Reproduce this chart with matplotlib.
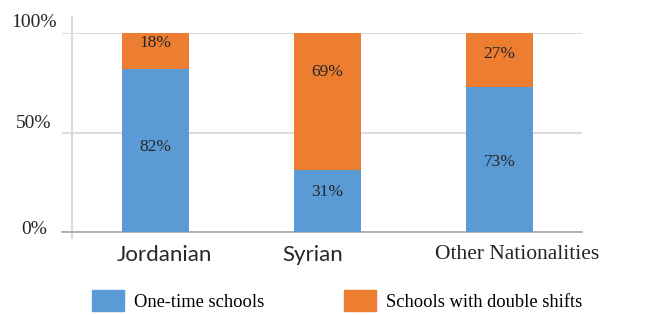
import matplotlib.pyplot as plt
from matplotlib.patches import Patch

categories = ["Jordanian", "Syrian", "Other Nationalities"]
one_time = [82, 31, 73]
double_shift = [18, 69, 27]
series_names = ["One-time schools", "Schools with double shifts"]
yticks = [0, 50, 100]
ytick_labels = ["0%", "50%", "100%"]

BLUE = "#5B9BD5"
ORANGE = "#ED7D31"
SERIF = "Liberation Serif"

fig = plt.figure(figsize=(6.65, 3.15), dpi=100)
ax = fig.add_axes([62 / 665, 1 - 232 / 315, 520 / 665, 199 / 315])

x = list(range(len(categories)))
w = 0.39
ax.bar(x, one_time, w, color=BLUE, zorder=3)
ax.bar(x, double_shift, w, bottom=one_time, color=ORANGE, zorder=3)

# label nudges (in value units) to sit where the original had them
low_nudge = [1.7, 4.6, -1.3]
high_nudge = [4, 15, 3]
for i in x:
    ax.text(i, one_time[i] / 2 + low_nudge[i], f"{one_time[i]}%", ha="center",
            va="center", fontsize=12.5, family=SERIF, color="#262626", zorder=4)
    ax.text(i, one_time[i] + double_shift[i] / 2 + high_nudge[i],
            f"{double_shift[i]}%", ha="center", va="center",
            fontsize=12.5, family=SERIF, color="#262626", zorder=4)

ax.set_xlim(-0.544, 2.48)
ax.set_ylim(0, 100)
for s in ["top", "right", "left"]:
    ax.spines[s].set_visible(False)
ax.spines["bottom"].set_color("#a6a6a6")
ax.spines["bottom"].set_linewidth(1.2)
ax.set_yticks(yticks)
ax.set_yticklabels([])
ax.yaxis.grid(True, color="#d9d9d9", linewidth=1.3, zorder=0)
ax.tick_params(axis="both", length=0)

# vertical axis line, offset from the left edge
ax.plot([-0.486, -0.486], [-3, 108], color="#d9d9d9", linewidth=1.5,
        clip_on=False, zorder=1)

# y tick labels, nudged above their gridlines
offsets = [1.5, 4.5, 5.5]
for v, lab, off in zip(yticks, ytick_labels, offsets):
    ax.text(-0.707, v + off, lab, ha="center", va="center", fontsize=14,
            family=SERIF, color="#262626", clip_on=False)

# category labels, each a little off-centre like the original
ax.set_xticks(x)
ax.set_xticklabels([])
fams = ["Lato", "Lato", SERIF]
sizes = [16, 16, 15.5]
xnudge = [0.052, -0.084, 0.105]
for i, c in enumerate(categories):
    ax.text(i + xnudge[i], -6.5, c, ha="center", va="top", fontsize=sizes[i],
            family=fams[i], color="#262626", clip_on=False)

handles = [Patch(color=BLUE), Patch(color=ORANGE)]
fig.legend(handles, series_names, loc="upper left",
           bbox_to_anchor=(92 / 665, 1 - 290 / 315), ncol=2, frameon=False,
           borderaxespad=0, borderpad=0, handlelength=1.75, handleheight=1.4,
           handletextpad=0.5, columnspacing=4.35,
           prop={"family": SERIF, "size": 13.3})

fig.savefig("out.png", dpi=100)
